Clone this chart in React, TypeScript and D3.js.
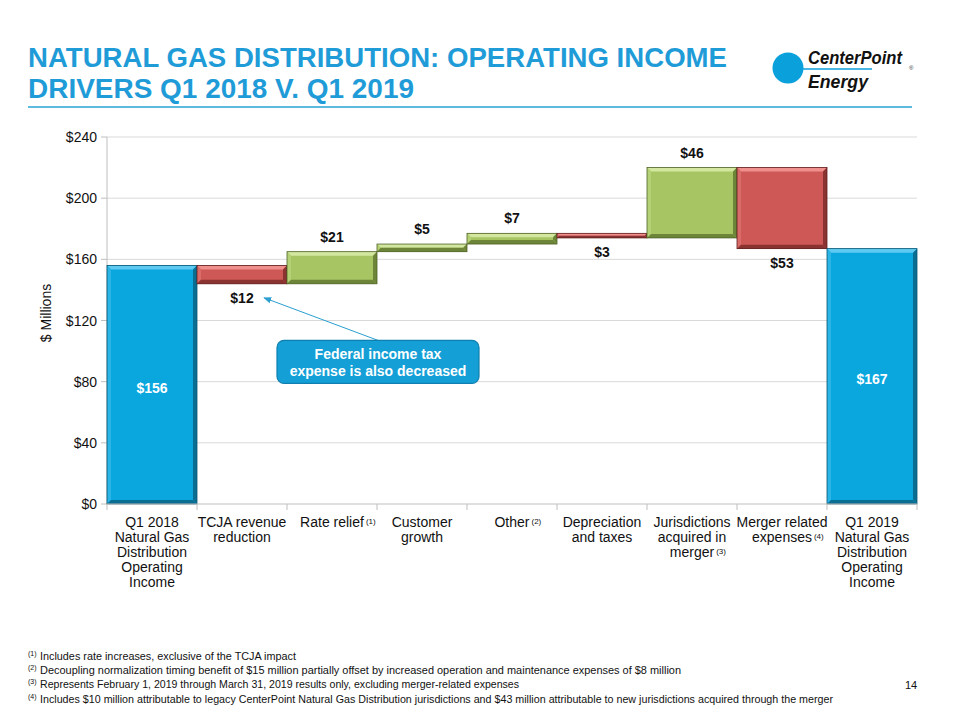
import React from "react";
import * as d3 from "d3";

const categories: string[][] = [
  ["Q1 2018", "Natural Gas", "Distribution", "Operating", "Income"],
  ["TCJA revenue", "reduction"],
  ["Rate relief"],
  ["Customer", "growth"],
  ["Other"],
  ["Depreciation", "and taxes"],
  ["Jurisdictions", "acquired in", "merger"],
  ["Merger related", "expenses"],
  ["Q1 2019", "Natural Gas", "Distribution", "Operating", "Income"],
];
const footRefs: string[] = ["", "", "(1)", "", "(2)", "", "(3)", "(4)", ""];
const values: number[] = [156, -12, 21, 5, 7, -3, 46, -53, 167];
const isTotal: boolean[] = [true, false, false, false, false, false, false, false, true];
const yTicks: number[] = [0, 40, 80, 120, 160, 200, 240];

const titleLines = ["NATURAL GAS DISTRIBUTION:  OPERATING INCOME", "DRIVERS Q1 2018 V. Q1 2019"];
const footnotes: [string, string][] = [
  ["(1)", "Includes rate increases, exclusive of the TCJA impact"],
  ["(2)", "Decoupling normalization timing benefit of $15 million partially offset by increased operation and maintenance expenses of $8 million"],
  ["(3)", "Represents February 1, 2019 through March 31, 2019 results only, excluding merger-related expenses"],
  ["(4)", "Includes $10 million attributable to legacy CenterPoint Natural Gas Distribution jurisdictions and $43 million attributable to new jurisdictions acquired through the merger"],
];
const footWidths = [256, 641, 479, 793];

const FONT = "'Liberation Sans', Arial, sans-serif";

const palette = {
  total: { base: "#0aa7df", light: "#5fcaf1", side: "#2bb4e6", dark: "#0a6e93", edge: "#075673" },
  up: { base: "#a7c663", light: "#d3e7a0", side: "#b5d175", dark: "#6d8538", edge: "#4f6127" },
  down: { base: "#cd5856", light: "#f0908d", side: "#d96c69", dark: "#8a3331", edge: "#5e1f1e" },
};

let ctx: CanvasRenderingContext2D | null = null;
function measure(text: string, font: string): number {
  if (!ctx) ctx = document.createElement("canvas").getContext("2d");
  if (!ctx) return text.length * 7;
  ctx.font = font;
  return ctx.measureText(text).width;
}

function BevelBar({ x0, y0, x1, y1, c }: { x0: number; y0: number; x1: number; y1: number; c: any }) {
  const b = Math.min(4, (y1 - y0) / 2, (x1 - x0) / 2);
  const p = (pts: number[][]) => pts.map((q) => q.join(",")).join(" ");
  return (
    <g>
      <rect x={x0} y={y0} width={x1 - x0} height={y1 - y0} fill={c.base} />
      <polygon points={p([[x0, y0], [x1, y0], [x1 - b, y0 + b], [x0 + b, y0 + b]])} fill={c.light} />
      <polygon points={p([[x0, y0], [x0 + b, y0 + b], [x0 + b, y1 - b], [x0, y1]])} fill={c.side} />
      <polygon points={p([[x1, y0], [x1, y1], [x1 - b, y1 - b], [x1 - b, y0 + b]])} fill={c.dark} />
      <polygon points={p([[x0, y1], [x1, y1], [x1 - b, y1 - b], [x0 + b, y1 - b]])} fill={c.dark} />
      <rect x={x0} y={y0} width={x1 - x0} height={y1 - y0} fill="none" stroke={c.edge} strokeWidth={0.8} />
    </g>
  );
}

export default function App() {
  const W = 960, H = 720;
  const left = 107, right = 917, top = 137, bottom = 504;
  const x = d3.scaleBand<number>().domain(d3.range(categories.length)).range([left, right]).padding(0);
  const y = d3.scaleLinear().domain([0, 240]).range([bottom, top]);
  const bw = x.bandwidth();

  let running = 0;
  const bars = values.map((v, i) => {
    let start: number, end: number;
    if (isTotal[i]) { start = 0; end = v; running = v; }
    else { start = running; end = running + v; running = end; }
    return { i, v, start, end, lo: Math.min(start, end), hi: Math.max(start, end) };
  });

  const labFont = `14px ${FONT}`;
  const tcjaLabelY = y(bars[1].lo) + 19;
  const logoFont = `italic bold 19px ${FONT}`;
  const sCP = 94 / measure("CenterPoint", logoFont);
  const sEn = 60 / measure("Energy", logoFont);

  return (
    <svg width={W} height={H} style={{ position: "absolute", left: 0, top: 0, background: "#fff" }} fontFamily={FONT}>
      <rect width={W} height={H} fill="#fff" />
      {/* Title */}
      {titleLines.map((t, i) => (
        <text key={i} x={28} y={67 + i * 31} fontSize={27} fontWeight="bold" fill="#1f9cd8"
          textLength={i === 0 ? 699 : 386} lengthAdjust="spacingAndGlyphs">{t}</text>
      ))}
      <line x1={28} x2={912} y1={107} y2={107} stroke="#2aa3d6" strokeWidth={1.6} />
      {/* Logo */}
      <g>
        <circle cx={788} cy={68} r={15.5} fill="#0aa0dc" />
        <line x1={788} x2={872} y1={69} y2={69} stroke="#0aa0dc" strokeWidth={1.3} />
        <g transform={`translate(808,64) scale(${sCP},1)`}>
          <text x={0} y={0} fontSize={19} fontWeight="bold" fontStyle="italic" fill="#111">CenterPoint</text>
        </g>
        <text x={909} y={70} fontSize={6} fill="#333">®</text>
        <g transform={`translate(808,88) scale(${sEn},1)`}>
          <text x={0} y={0} fontSize={19} fontWeight="bold" fontStyle="italic" fill="#111">Energy</text>
        </g>
      </g>

      {/* gridlines */}
      {yTicks.filter((t) => t > 0).map((t) => (
        <line key={t} x1={left} x2={right} y1={y(t)} y2={y(t)} stroke="#d9d9d9" strokeWidth={1} />
      ))}
      {/* y axis */}
      <line x1={left} x2={left} y1={top} y2={bottom} stroke="#bfbfbf" />
      {yTicks.map((t) => (
        <g key={t}>
          <line x1={left - 6} x2={left} y1={y(t)} y2={y(t)} stroke="#bfbfbf" />
          <text x={97} y={y(t) + 5} fontSize={14} textAnchor="end" fill="#111">${t}</text>
        </g>
      ))}
      <text transform={`translate(51,${313}) rotate(-90)`} fontSize={14} textAnchor="middle" fill="#111">$ Millions</text>

      {/* bars */}
      {bars.map((b) => {
        const c = isTotal[b.i] ? palette.total : b.v >= 0 ? palette.up : palette.down;
        return <BevelBar key={b.i} x0={x(b.i)!} x1={x(b.i)! + bw} y0={y(b.hi)} y1={y(b.lo)} c={c} />;
      })}

      {/* x axis */}
      <line x1={left} x2={right} y1={bottom} y2={bottom} stroke="#bfbfbf" />
      {d3.range(categories.length + 1).map((i) => (
        <line key={i} x1={left + i * bw} x2={left + i * bw} y1={bottom} y2={bottom + 6} stroke="#bfbfbf" />
      ))}
      {categories.map((lines, i) => {
        const cx = x(i)! + bw / 2;
        return (
          <g key={i}>
            {lines.map((l, j) => (
              <text key={j} x={cx} y={527 + j * 15} fontSize={14} textAnchor="middle" fill="#111">{l}</text>
            ))}
            {footRefs[i] && (
              <text x={cx + measure(lines[lines.length - 1], labFont) / 2 + 2} y={527 + (lines.length - 1) * 15 - 3.5}
                fontSize={8} fill="#111">{footRefs[i]}</text>
            )}
          </g>
        );
      })}

      {/* value labels */}
      {bars.map((b) => {
        const cx = x(b.i)! + bw / 2;
        if (isTotal[b.i]) {
          return (
            <text key={b.i} x={cx} y={y(b.v / 2) + 8} fontSize={14} fontWeight="bold" textAnchor="middle" fill="#fff">${b.v}</text>
          );
        }
        const ly = b.v >= 0 ? y(b.hi) - 10 : y(b.lo) + 19;
        return (
          <text key={b.i} x={cx} y={ly} fontSize={14} fontWeight="bold" textAnchor="middle" fill="#111">${Math.abs(b.v)}</text>
        );
      })}

      {/* callout */}
      <g>
        <defs>
          <marker id="ah" viewBox="0 0 10 10" refX={9} refY={5} markerWidth={8} markerHeight={8} orient="auto-start-reverse">
            <path d="M0,1 L10,5 L0,9 z" fill="#2a9fd0" />
          </marker>
        </defs>
        <line x1={x(3)! + 1} y1={y(107)} x2={x(1)! + bw / 2 + 22} y2={tcjaLabelY - 5} stroke="#2a9fd0" strokeWidth={1} markerEnd="url(#ah)" />
        <rect x={x(3)! - 100} y={y(107)} width={202} height={43} rx={7} fill="#149fd7" stroke="#0e7fae" strokeWidth={1.2} />
        <text x={x(3)! + 1} y={y(107) + 19} fontSize={14} fontWeight="bold" textAnchor="middle" fill="#fff">Federal income tax</text>
        <text x={x(3)! + 1} y={y(107) + 36} fontSize={14} fontWeight="bold" textAnchor="middle" fill="#fff">expense is also decreased</text>
      </g>

      {/* footnotes */}
      {footnotes.map(([r, t], i) => (
        <g key={i}>
          <text x={28} y={656 + i * 14.2} fontSize={7} fill="#111">{r}</text>
          <text x={40} y={660 + i * 14.2} fontSize={11} fill="#111" textLength={footWidths[i]} lengthAdjust="spacingAndGlyphs">{t}</text>
        </g>
      ))}
      <text x={905} y={689} fontSize={11} fill="#111">14</text>
    </svg>
  );
}
